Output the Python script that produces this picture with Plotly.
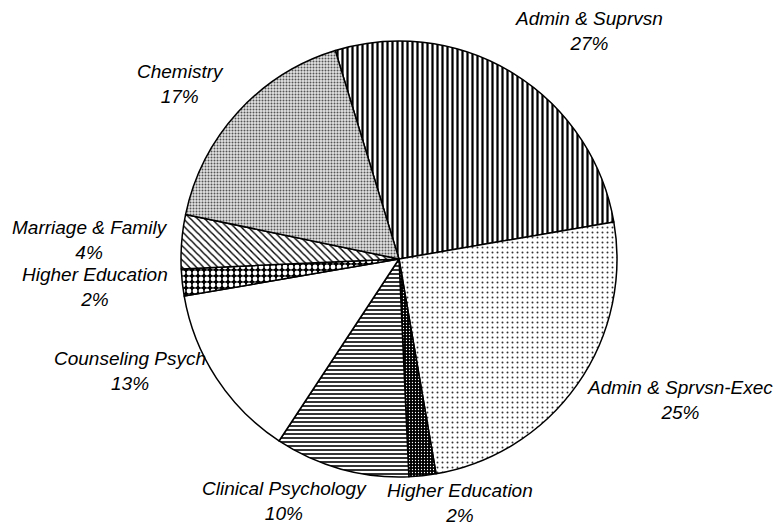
import plotly.graph_objects as go

# Degree programs and their shares (percent), in clockwise order
programs = [
    "Admin & Suprvsn",
    "Admin & Sprvsn-Exec",
    "Higher Education",
    "Clinical Psychology",
    "Counseling Psych",
    "Higher Education",
    "Marriage & Family",
    "Chemistry",
]
shares = [27, 25, 2, 10, 13, 2, 4, 17]

# Fill pattern per slice: (shape, background, foreground, size, solidity)
patterns = [
    ("|", "white", "black", 5, 0.45),
    (".", "white", "#333333", 5, 0.12),
    (".", "black", "white", 3, 0.15),
    ("-", "white", "black", 4, 0.4),
    ("", "white", "black", 8, 0.3),
    (".", "black", "white", 6, 0.5),
    ("\\", "white", "black", 5, 0.28),
    (".", "#e2e2e2", "#555555", 3, 0.35),
]

W, H = 779, 527

# Label anchor positions in pixels (center of the two-line label block)
label_px = [
    (589, 31),
    (680, 400),
    (460, 503),
    (284, 501),
    (130, 371),
    (95, 287),
    (90, 240),
    (180, 84),
]

slice_ids = [f"{p} #{i + 1}" for i, p in enumerate(programs)]

fig = go.Figure(
    go.Pie(
        labels=slice_ids,
        values=shares,
        sort=False,
        direction="clockwise",
        rotation=-17,
        textinfo="none",
        hovertext=programs,
        hoverinfo="text+percent",
        showlegend=False,
        marker=dict(
            colors=[p[1] for p in patterns],
            line=dict(color="black", width=1.5),
            pattern=dict(
                shape=[p[0] for p in patterns],
                bgcolor=[p[1] for p in patterns],
                fgcolor=[p[2] for p in patterns],
                size=[p[3] for p in patterns],
                solidity=[p[4] for p in patterns],
                fillmode="replace",
            ),
        ),
        domain=dict(x=[181 / W, 617 / W], y=[1 - 478 / H, 1 - 40 / H]),
    )
)

total = sum(shares)
for name, val, (px, py) in zip(programs, shares, label_px):
    fig.add_annotation(
        x=px / W,
        y=1 - py / H,
        xref="paper",
        yref="paper",
        text=f"{name}<br>{round(100 * val / total)}%",
        showarrow=False,
        xanchor="center",
        yanchor="middle",
        align="center",
        font=dict(family="Liberation Sans, Arial, sans-serif", size=19, color="black", style="italic"),
    )

fig.update_layout(
    width=W,
    height=H,
    margin=dict(l=0, r=0, t=0, b=0),
    paper_bgcolor="white",
    plot_bgcolor="white",
)

fig.write_html("out.html")
